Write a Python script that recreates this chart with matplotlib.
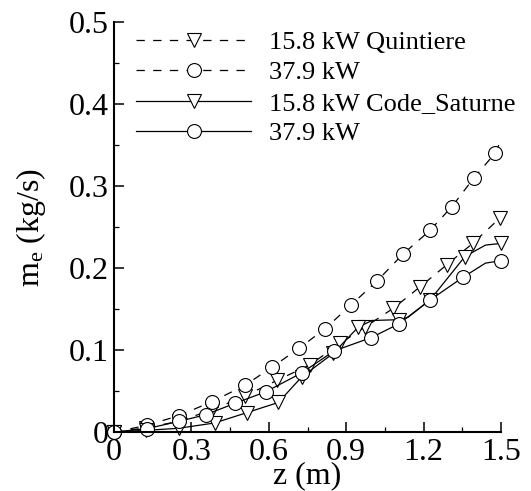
import matplotlib.pyplot as plt
from matplotlib.ticker import MultipleLocator, FormatStrFormatter

plt.rcParams['font.family'] = 'Liberation Serif'
plt.rcParams['mathtext.fontset'] = 'custom'
plt.rcParams['mathtext.rm'] = 'Liberation Serif'
plt.rcParams['mathtext.it'] = 'Liberation Serif:italic'
plt.rcParams['lines.scale_dashes'] = False

# Quintiere correlation
z_q158 = [0, 0.125, 0.25, 0.38, 0.508, 0.632, 0.76, 0.876, 0.973, 1.083, 1.186, 1.29, 1.39, 1.496]
m_q158 = [0, 0.005, 0.013, 0.027, 0.044, 0.063, 0.082, 0.108, 0.128, 0.151, 0.177, 0.204, 0.230, 0.261]
z_q379 = [0, 0.127, 0.252, 0.38, 0.508, 0.612, 0.717, 0.818, 0.919, 1.019, 1.12, 1.225, 1.31, 1.395, 1.477, 1.5]
m_q379 = [0, 0.008, 0.020, 0.037, 0.057, 0.079, 0.102, 0.126, 0.155, 0.184, 0.217, 0.246, 0.275, 0.310, 0.340, 0.356]
mk_q379 = list(range(15))

# Code_Saturne
z_cs158 = [0, 0.125, 0.25, 0.39, 0.514, 0.637, 0.727, 0.85, 0.947, 1.0, 1.105, 1.14, 1.225, 1.36, 1.44, 1.5]
m_cs158 = [0, 0.002, 0.0045, 0.011, 0.0235, 0.036, 0.067, 0.096, 0.128, 0.136, 0.137, 0.140, 0.161, 0.214, 0.228, 0.230]
mk_cs158 = [0, 1, 2, 3, 4, 5, 6, 7, 8, 10, 12, 13, 15]
z_cs379 = [0, 0.127, 0.252, 0.355, 0.469, 0.588, 0.727, 0.854, 0.996, 1.105, 1.225, 1.354, 1.44, 1.5]
m_cs379 = [0, 0.004, 0.013, 0.021, 0.035, 0.049, 0.072, 0.099, 0.115, 0.132, 0.161, 0.189, 0.206, 0.209]
mk_cs379 = [0, 1, 2, 3, 4, 5, 6, 7, 8, 9, 10, 11, 13]

fig = plt.figure(figsize=(5.31, 4.91), dpi=100)
ax = fig.add_axes([0.2147, 0.1202, 0.7288, 0.8348])

style = dict(color='black', lw=0.9, mfc='white', mec='black', mew=0.8, ms=10, clip_on=False)
ax.plot(z_q158, m_q158, ls=(0, (6, 6)), marker='v', label='15.8 kW Quintiere', **style)
ax.plot(z_q379, m_q379, ls=(0, (6, 6)), marker='o', markevery=mk_q379, label='37.9 kW', **style)
ax.plot(z_cs158, m_cs158, ls='-', marker='v', markevery=mk_cs158, label='15.8 kW Code_Saturne', **style)
ax.plot(z_cs379, m_cs379, ls='-', marker='o', markevery=mk_cs379, label='37.9 kW', **style)

ax.set_xlim(0, 1.5)
ax.set_ylim(0, 0.5)
ax.spines['top'].set_visible(False)
ax.spines['right'].set_visible(False)
ax.spines['left'].set_linewidth(1.5)
ax.spines['bottom'].set_linewidth(1.5)

ax.xaxis.set_major_locator(MultipleLocator(0.3))
ax.xaxis.set_minor_locator(MultipleLocator(0.15))
ax.yaxis.set_major_locator(MultipleLocator(0.1))
ax.yaxis.set_minor_locator(MultipleLocator(0.05))
ax.xaxis.set_major_formatter(FormatStrFormatter('%g'))
ax.yaxis.set_major_formatter(FormatStrFormatter('%g'))
ax.tick_params(which='major', direction='in', length=7, width=1.1, labelsize=23, pad=4)
ax.tick_params(which='minor', direction='in', length=3.6, width=0.9)
ax.tick_params(axis='x', pad=4)

ax.set_xlabel('z (m)', fontsize=23, labelpad=-4)
ax.set_ylabel('m$_\\mathrm{e}$ (kg/s)', fontsize=23, labelpad=15)

ax.legend(loc='upper left', bbox_to_anchor=(0.03, 1.005), frameon=False, fontsize=19,
          handlelength=4.35, handletextpad=0.68, labelspacing=0.26, borderaxespad=0)

fig.savefig('out.png', dpi=100)
